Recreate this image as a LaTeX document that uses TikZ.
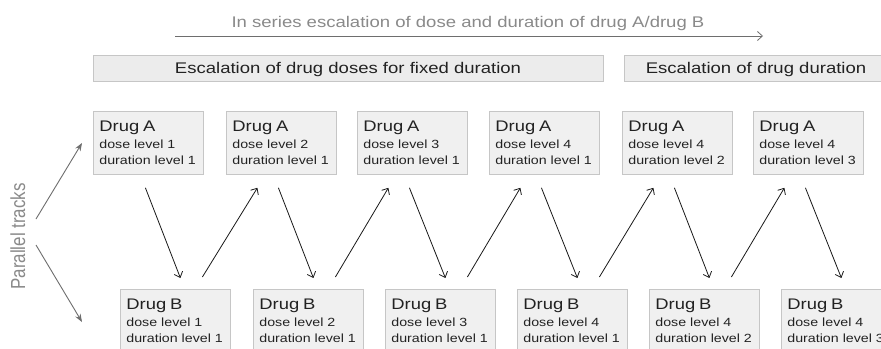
\documentclass[tikz,border=0pt]{standalone}
\usepackage{fontspec}
\setmainfont{Liberation Sans}[FakeStretch=1.2]
\newfontfamily\plainfont{Liberation Sans}
\usetikzlibrary{arrows.meta,calc}
\definecolor{boxfill}{HTML}{F0F0F0}
\definecolor{boxline}{HTML}{C6C6C6}
\definecolor{bannerfill}{HTML}{ECECEC}
\definecolor{titlegray}{HTML}{8A8A8A}
\definecolor{trackgray}{HTML}{6E6E6E}
\definecolor{textdark}{HTML}{222222}
\begin{document}
\begin{tikzpicture}[x=1bp,y=-1bp,
  box/.style={draw=boxline, fill=boxfill, line width=0.8bp, minimum width=110bp,
    minimum height=63bp, text width=98bp, inner xsep=6bp, inner ysep=0pt,
    align=left, anchor=north west, font=\fontsize{11.9}{16.5}\selectfont, text=textdark},
  banner/.style={draw=boxline, fill=bannerfill, line width=0.8bp, minimum height=26bp,
    inner sep=0pt, text depth=0pt, font=\fontsize{15.5}{18}\selectfont, text=textdark},
  flow/.style={-{Straight Barb[length=5bp,width=9bp]}, line width=0.8bp, black!90},
  track/.style={-{Stealth[length=8bp,width=6bp]}, line width=0.9bp, trackgray},
  serie/.style={-{Straight Barb[length=5bp,width=9bp]}, line width=0.8bp, trackgray}
]
\clip (0,0) rectangle (881,348);
\fill[white] (0,0) rectangle (881,348);

% title and series arrow
\node[anchor=base, text=titlegray, font=\fontsize{15.5}{18}\selectfont] (title) at (468,27)
  {In series escalation of dose and duration of drug A/drug B};
\coordinate (ts) at (175,36);
\coordinate (te) at (763,36);
\draw[serie] (ts) -- (te);

% banners
\node[banner, minimum width=510bp] (ban1) at (348,68) {Escalation of drug doses for fixed duration};
\node[banner, minimum width=264bp] (ban2) at (756,68) {Escalation of drug duration};

% boxes
\foreach \i/\xa/\xb/\dose/\dur in {1/93/120/1/1, 2/226/253/2/1, 3/357/385/3/1, 4/489/517/4/1, 5/622/649/4/2, 6/753/781/4/3}{
  \node[box] (A\i) at (\xa,111) {{\fontsize{15.4}{16.5}\selectfont Drug~A}\\ dose~level~\dose\\ duration~level~\dur};
  \node[box] (B\i) at (\xb,289) {{\fontsize{15.4}{16.5}\selectfont Drug~B}\\ dose~level~\dose\\ duration~level~\dur};
}

% zigzag arrows
\foreach \i in {1,...,6}{
  \draw[flow] ($(A\i.south)+(-3,13)$) -- ($(B\i.north)+(5,-11)$);
}
\foreach \i/\j in {1/2,2/3,3/4,4/5,5/6}{
  \draw[flow] ($(B\i.north)+(27,-12)$) -- ($(A\j.south)+(-24,13)$);
}

% parallel tracks
\node[rotate=90, anchor=base, text=titlegray, font=\plainfont\fontsize{17}{20}\selectfont] (par) at (25,236.5)
  {\scalebox{1}[1.2]{Parallel tracks}};
\coordinate (pu0) at (36,219);
\coordinate (pu1) at (82,143);
\coordinate (pd0) at (36,245);
\coordinate (pd1) at (82,322);
\draw[track] (pu0) -- (pu1);
\draw[track] (pd0) -- (pd1);
\end{tikzpicture}
\end{document}
